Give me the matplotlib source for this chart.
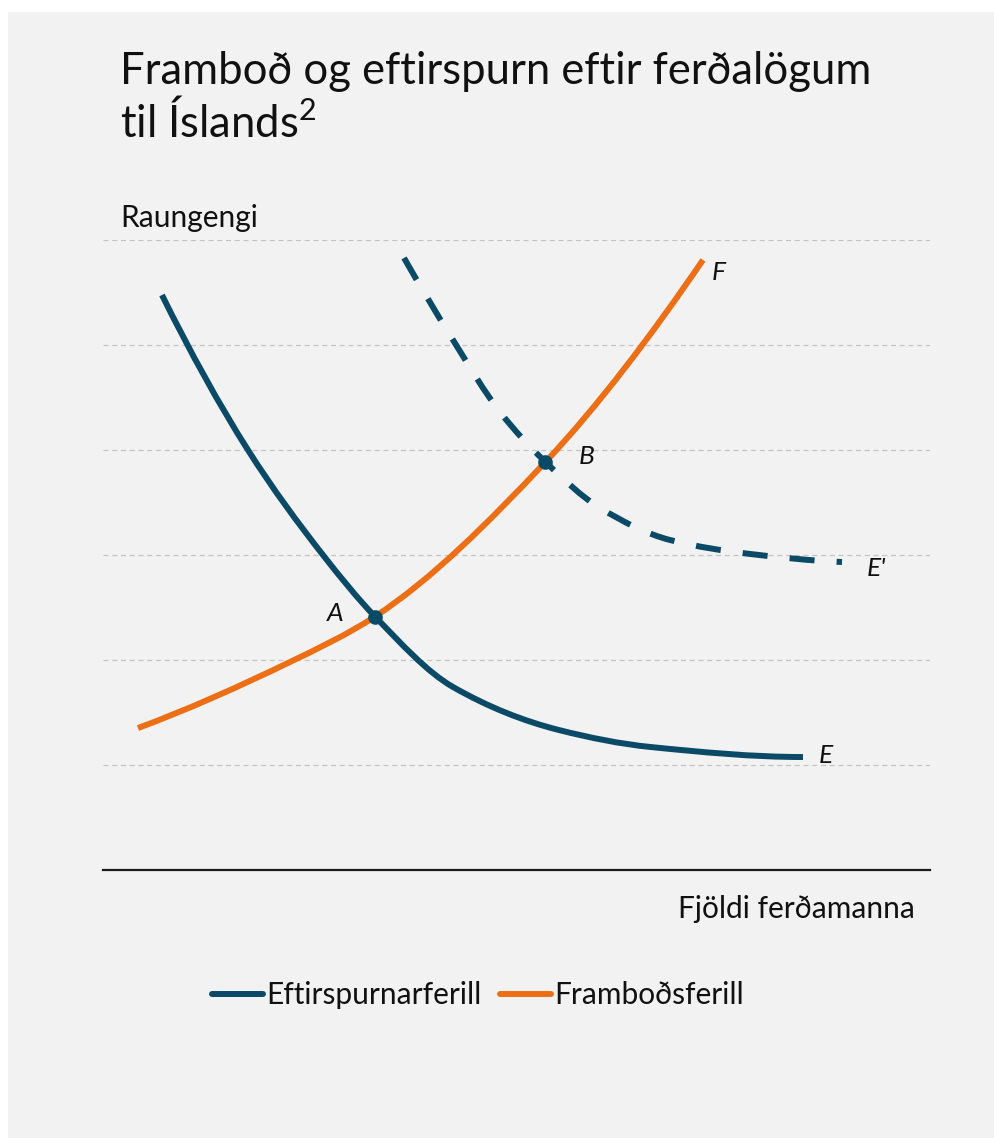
import numpy as np
import matplotlib
matplotlib.use("Agg")
import matplotlib.pyplot as plt
from matplotlib.lines import Line2D
from matplotlib.patches import Rectangle, PathPatch
from matplotlib.path import Path

parameters = {'font.family': ['Lato', 'DejaVu Sans'],
              'mathtext.fontset': 'custom',
              'mathtext.rm': 'Lato',
              'lines.solid_capstyle': 'butt',
              'lines.dash_capstyle': 'butt'}
plt.rcParams.update(parameters)

# demand curve E (Eftirspurnarferill)
demand_x = [7.13, 17.53, 26.60, 32.89, 42.32, 55.14, 66.26, 84.64]
demand_y = [5.476, 4.000, 3.000, 2.414, 1.743, 1.333, 1.171, 1.076]

# supply curve F (Framboðsferill)
supply_x = [4.23, 22.61, 32.89, 53.50, 72.55]
supply_y = [1.352, 1.981, 2.414, 3.886, 5.810]

# shifted demand curve E'
shifted_x = [36.40, 42.32, 48.00, 53.50, 60.10, 68.56, 78.23, 89.36]
shifted_y = [5.829, 5.048, 4.362, 3.886, 3.448, 3.143, 3.010, 2.933]

# equilibrium points
eq_labels = ['A', 'B']
eq_x = [32.89, 53.50]
eq_y = [2.414, 3.886]

gridlevels = [1, 2, 3, 4, 5, 6]

title_lines = ["Framboð og eftirspurn eftir ferðalögum", r"til Íslands$^{\mathregular{2}}$"]
ylabel = "Raungengi"
xlabel = "Fjöldi ferðamanna"
legend_labels = ["Eftirspurnarferill", "Framboðsferill"]

blue = '#0b4a66'
orange = '#ec6f16'
panel = '#f2f2f2'


def smooth_path(xs, ys):
    # pchip-style tangents at the read points, drawn as cubic beziers
    x = np.asarray(xs, float)
    y = np.asarray(ys, float)
    h = np.diff(x)
    d = np.diff(y) / h
    m = np.zeros_like(x)
    for i in range(1, len(x) - 1):
        if d[i - 1] * d[i] > 0:
            w1 = 2 * h[i] + h[i - 1]
            w2 = h[i] + 2 * h[i - 1]
            m[i] = (w1 + w2) / (w1 / d[i - 1] + w2 / d[i])
    m[0] = ((2 * h[0] + h[1]) * d[0] - h[0] * d[1]) / (h[0] + h[1])
    if m[0] * d[0] <= 0:
        m[0] = 0
    m[-1] = ((2 * h[-1] + h[-2]) * d[-1] - h[-1] * d[-2]) / (h[-1] + h[-2])
    if m[-1] * d[-1] <= 0:
        m[-1] = 0
    verts = [(x[0], y[0])]
    codes = [Path.MOVETO]
    for i in range(len(x) - 1):
        verts += [(x[i] + h[i] / 3, y[i] + m[i] * h[i] / 3),
                  (x[i + 1] - h[i] / 3, y[i + 1] - m[i + 1] * h[i] / 3),
                  (x[i + 1], y[i + 1])]
        codes += [Path.CURVE4] * 3
    return Path(verts, codes)


W, H = 995, 1138
fig = plt.figure(figsize=(W / 100, H / 100), dpi=100)
fig.patch.set_facecolor('white')
fig.patches.append(Rectangle((8 / W, 0), 1 - 8 / W, 1 - 12 / H, transform=fig.transFigure,
                             facecolor=panel, edgecolor='none', zorder=-10))

ax = fig.add_axes([103 / W, 1 - 870 / H, 827 / W, 630 / H])
ax.set_facecolor('none')
ax.set_xlim(0, 100)
ax.set_ylim(0, 6)

ax.set_yticks(gridlevels)
ax.set_xticks([])
ax.tick_params(axis='y', length=0, labelleft=False)
ax.yaxis.grid(True, color='#c4c4c4', linewidth=0.9, linestyle=(0, (4, 3)))
for s in ['top', 'left', 'right']:
    ax.spines[s].set_visible(False)
ax.spines['bottom'].set_linewidth(1.6)
ax.spines['bottom'].set_color('#1a1a1a')

lw = 4.3
ax.add_patch(PathPatch(smooth_path(supply_x, supply_y), fill=False, edgecolor=orange, lw=lw,
                       capstyle='butt', joinstyle='round', clip_on=False, zorder=3))
ax.add_patch(PathPatch(smooth_path(demand_x, demand_y), fill=False, edgecolor=blue, lw=lw,
                       capstyle='butt', joinstyle='round', clip_on=False, zorder=4))
ax.add_patch(PathPatch(smooth_path(shifted_x, shifted_y), fill=False, edgecolor=blue, lw=lw,
                       linestyle=(0, (4.2, 3.7)), capstyle='butt', clip_on=False, zorder=4))
ax.scatter(eq_x, eq_y, s=90, color=blue, zorder=5, clip_on=False)

lab = dict(fontsize=19, style='italic', color='#111111', ha='center', va='center',
           textcoords='offset points')
ax.annotate('A', (eq_x[0], eq_y[0]), xytext=(-29, 2), **lab)
ax.annotate('B', (eq_x[1], eq_y[1]), xytext=(29.5, 3.6), **lab)
ax.annotate('F', (supply_x[-1], supply_y[-1]), xytext=(11, -9), **lab)
ax.annotate("E'", (shifted_x[-1], shifted_y[-1]), xytext=(25, -5), **lab)
ax.annotate('E', (demand_x[-1], demand_y[-1]), xytext=(16.5, 1.4), **lab)

fig.text(120 / W, 1 - 84 / H, title_lines[0], fontsize=31.4, color='#111111', va='baseline')
fig.text(120 / W, 1 - 137 / H, title_lines[1], fontsize=31.4, color='#111111', va='baseline')
fig.text(120 / W, 1 - 227 / H, ylabel, fontsize=21.5, color='#111111', va='baseline')
fig.text(915 / W, 1 - 918 / H, xlabel, fontsize=21.5, color='#111111', va='baseline', ha='right')

handles = [Line2D([], [], color=blue, lw=lw, solid_capstyle='round'),
           Line2D([], [], color=orange, lw=lw, solid_capstyle='round')]
fig.legend(handles, legend_labels, loc='center', bbox_to_anchor=(478 / W, 1 - 995 / H),
           ncol=2, frameon=False, fontsize=21.5, handlelength=1.7, handletextpad=0.12,
           columnspacing=0.6, labelcolor='#111111')

fig.savefig('out.png', dpi=100, facecolor=fig.get_facecolor())
